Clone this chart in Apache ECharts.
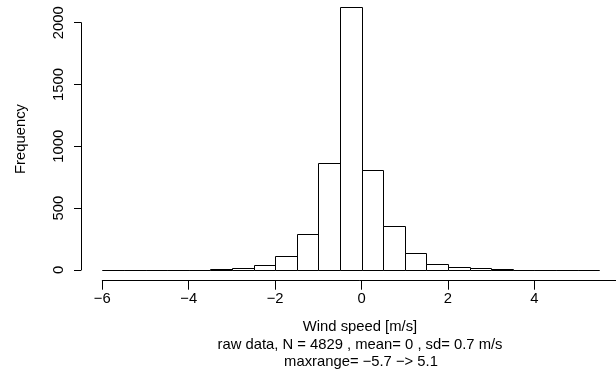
<!DOCTYPE html>
<html>
<head>
<meta charset="utf-8">
<script src="https://cdn.jsdelivr.net/npm/echarts@6/dist/echarts.min.js"></script>
<style>html,body{margin:0;padding:0;background:#fff;}#c{width:616px;height:371px;}</style>
</head>
<body>
<div id="c"></div>
<script>
// Histogram bin edges (left edges, width 0.5) and counts
var binStarts = [-6,-5.5,-5,-4.5,-4,-3.5,-3,-2.5,-2,-1.5,-1,-0.5,0,0.5,1,1.5,2,2.5,3,3.5,4,4.5,5];
var binWidth = 0.5;
var counts = [1,0,1,2,3,8,16,43,114,292,865,2124,809,353,135,49,26,16,8,3,2,1,1];
var xTicks = [-6,-4,-2,0,2,4];
var yTicks = [0,500,1000,1500,2000];
var xLabel = 'Wind speed [m/s]';
var yLabel = 'Frequency';
var subLines = ['raw data, N = 4829 , mean= 0 , sd= 0.7 m/s', 'maxrange= \u22125.7 \u2212> 5.1'];

var FONT = "'Liberation Sans', Arial, Helvetica, sans-serif";
var FS = 14.8;
var data = binStarts.map(function(s, i){ return [s, s + binWidth, counts[i]]; });

var chart = echarts.init(document.getElementById('c'), null, {renderer:'canvas'});
chart.setOption({
  animation: false,
  backgroundColor: '#fff',
  grid: {left: 102.3, right: 0, top: 22.7, bottom: 101},
  xAxis: {
    type: 'value', min: -6, max: 5.89, offset: 10.7,
    splitLine: {show: false},
    axisLine: {show: true, onZero: false, lineStyle: {color: '#000', width: 1}},
    axisTick: {show: true, length: 9, customValues: xTicks, lineStyle: {color: '#000', width: 1}},
    axisLabel: {customValues: xTicks, margin: 11, color: '#000', fontSize: FS, fontFamily: FONT,
      formatter: function(v){ return String(v).replace('-', '\u2212'); }}
  },
  yAxis: {
    type: 'value', min: 0, max: 2000, interval: 500, offset: 21.3,
    splitLine: {show: false},
    axisLine: {show: true, onZero: false, lineStyle: {color: '#000', width: 1}},
    axisTick: {show: true, length: 7, customValues: yTicks, lineStyle: {color: '#000', width: 1}},
    axisLabel: {customValues: yTicks, rotate: 90, margin: 15, color: '#000', fontSize: FS, fontFamily: FONT,
      formatter: function(v){ return String(v); }}
  },
  series: [{
    type: 'custom',
    clip: false,
    data: data,
    renderItem: function(params, api){
      var p0 = api.coord([api.value(0), 0]);
      var p1 = api.coord([api.value(1), api.value(2)]);
      var x0 = Math.round(p0[0]) + 0.5, x1 = Math.round(p1[0]) + 0.5;
      var yb = Math.round(p0[1]) + 0.5, yt = Math.round(p1[1]) + 0.5;
      return {
        type: 'rect',
        shape: {x: x0, y: yt, width: x1 - x0, height: yb - yt},
        style: {fill: '#fff', stroke: '#000', lineWidth: 1}
      };
    }
  }],
  graphic: [
    {type: 'text', x: 21, y: 139, rotation: Math.PI/2,
      style: {text: yLabel, font: FS + 'px ' + FONT, fill: '#000', textAlign: 'center', textVerticalAlign: 'middle'}},
    {type: 'text', x: 360, y: 327,
      style: {text: xLabel, font: FS + 'px ' + FONT, fill: '#000', textAlign: 'center', textVerticalAlign: 'middle'}},
    {type: 'text', x: 360, y: 345,
      style: {text: subLines[0], font: FS + 'px ' + FONT, fill: '#000', textAlign: 'center', textVerticalAlign: 'middle'}},
    {type: 'text', x: 361, y: 362,
      style: {text: subLines[1], font: FS + 'px ' + FONT, fill: '#000', textAlign: 'center', textVerticalAlign: 'middle'}}
  ]
});
</script>
</body>
</html>
